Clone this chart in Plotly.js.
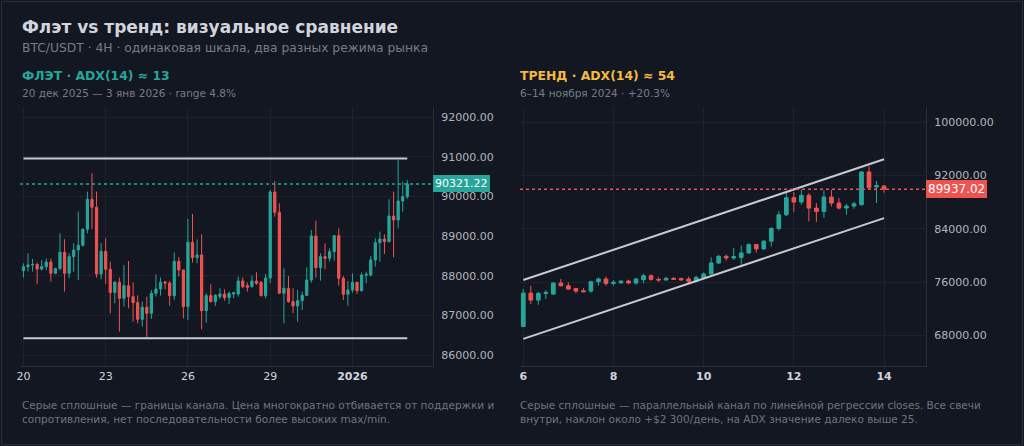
<!DOCTYPE html>
<html>
<head>
<meta charset="utf-8">
<script src="https://cdn.plot.ly/plotly-3.0.1.min.js"></script>
<style>
  html, body { margin: 0; padding: 0; background: #131722; }
  #chart { width: 1024px; height: 446px; }
</style>
</head>
<body>
<div id="chart"></div>
<script>
'use strict';

// ---- flat regime: BTC/USDT 4H, 20 Dec 2025 .. 3 Jan 2026 ----
const flatStart = '2025-12-20T00:00:00Z';
const flatOpen = [
    88134, 88235, 88277, 88290, 88176, 88235, 88353, 88067, 88185, 88596,
    88067, 88487, 88655, 88773, 89176, 89932, 89731, 88050, 88621, 88168,
    87580, 87840, 87437, 87756, 87479, 87327, 86907, 87210, 87059, 87563,
    87672, 87850, 87820, 87504, 88369, 88151, 87227, 88848, 88462, 88529,
    87126, 87504, 87353, 87479, 87546, 87453, 87546, 87546, 87874, 87756,
    87731, 87874, 87840, 87504, 87949, 90117, 89605, 87563, 87689, 87353,
    87243, 87378, 87512, 87899, 89008, 88210, 88487, 88445, 88613, 89016,
    87941, 87538, 87647, 87840, 87630, 88017, 88025, 88403, 88840, 88932,
    88865, 89512, 89411, 89890, 90000
];
const flatHigh = [
    88319, 88571, 88428, 88336, 88403, 88437, 88437, 88210, 89075, 88924,
    88571, 88823, 89621, 89201, 90126, 90588, 90126, 88832, 88949, 88361,
    87874, 87958, 88277, 88378, 87840, 87512, 87353, 87479, 87647, 88042,
    87958, 87874, 87874, 88596, 88479, 88160, 89437, 89563, 88924, 89050,
    87563, 87790, 87538, 87689, 87664, 87605, 87596, 87983, 87958, 87840,
    88008, 88092, 87874, 88050, 90168, 90395, 89832, 88193, 88000, 87689,
    87647, 87605, 88218, 89159, 89395, 88571, 88823, 88697, 89033, 89201,
    88000, 87874, 88067, 87857, 88092, 88109, 88504, 88949, 89117, 89050,
    89932, 90126, 90924, 90378, 90420
];
const flatLow = [
    87958, 88109, 88109, 87790, 88134, 88151, 87857, 88042, 88134, 87605,
    87941, 88109, 87899, 88739, 89075, 89185, 87958, 87916, 87798, 87059,
    87311, 86596, 87227, 87185, 86848, 86806, 86722, 86454, 86916, 87479,
    87504, 87664, 87252, 87395, 87983, 86932, 86890, 88336, 88319, 86655,
    86823, 87327, 87243, 87420, 87378, 87294, 87437, 87479, 87689, 87605,
    87706, 87773, 87479, 87437, 87815, 89495, 87546, 86806, 87327, 87059,
    86848, 87143, 87504, 87832, 87958, 87882, 88168, 88361, 88386, 87756,
    87395, 87252, 87580, 87546, 87605, 87815, 87983, 88235, 88361, 88554,
    88840, 88470, 89201, 89621, 89941
];
const flatClose = [
    88235, 88277, 88290, 88176, 88235, 88353, 88067, 88185, 88596, 88067,
    88487, 88655, 88773, 89176, 89932, 89731, 88050, 88621, 88168, 87580,
    87840, 87437, 87756, 87479, 87327, 86907, 87210, 87059, 87563, 87672,
    87840, 87820, 87504, 88369, 88151, 87227, 88848, 88462, 88529, 87126,
    87504, 87353, 87512, 87546, 87453, 87563, 87580, 87874, 87731, 87714,
    87874, 87815, 87504, 87949, 90117, 89605, 87563, 87689, 87353, 87243,
    87378, 87512, 87899, 89008, 88210, 88487, 88445, 88613, 89016, 87941,
    87538, 87647, 87840, 87630, 88025, 88042, 88403, 88840, 88932, 88865,
    89512, 89411, 89890, 90000, 90321.22
];
const flatChannel = [90960, 86430];          // resistance, support
const flatChannelSpan = ['2025-12-20 00:00', '2026-01-03 00:00'];
const flatTickVals = ['2025-12-20', '2025-12-23', '2025-12-26', '2025-12-29', '2026-01-01'];
const flatTickText = ['20', '23', '26', '29', '<b>2026</b>'];
const flatPriceTicks = [86000, 87000, 88000, 89000, 90000, 91000, 92000];

// ---- trend regime: BTC/USDT 4H, 6 .. 14 Nov 2024 ----
const trendStart = '2024-11-06T00:00:00Z';
const trendOpen = [
    69349, 74369, 73316, 74319, 74219, 75874, 75473, 75071, 74720, 74670,
    76075, 76476, 75824, 75900, 76175, 75874, 76376, 76977, 76426, 76325,
    76576, 76576, 76476, 76125, 76626, 77228, 78883, 79886, 79635, 79700,
    80388, 81642, 80990, 82143, 84049, 86106, 88664, 88012, 89015, 87109,
    86608, 88764, 87862, 87109, 87410, 87611, 92526, 90269, 90420
];
const trendHigh = [
    74977, 75473, 74570, 74820, 75974, 76476, 75974, 75122, 75122, 76225,
    76727, 76877, 76325, 76225, 76376, 76676, 77278, 77178, 76727, 76827,
    76777, 76626, 76827, 76977, 77478, 79736, 80087, 80137, 81140, 81491,
    81842, 81742, 82344, 84250, 86658, 89517, 89517, 89868, 89366, 87862,
    89768, 89868, 88614, 87761, 88062, 92627, 93379, 91172, 90520
];
const trendLow = [
    69305, 72714, 72614, 73466, 74118, 75322, 74871, 74319, 74520, 74419,
    75473, 75473, 75473, 75723, 75723, 75623, 75824, 76225, 76075, 76225,
    76325, 76225, 75824, 75974, 76475, 77127, 78732, 79234, 79334, 78632,
    80237, 80438, 80839, 81341, 83748, 85905, 86507, 87611, 85103, 85002,
    85654, 87360, 86908, 86106, 87009, 87510, 89918, 87862, 89417
];
const trendClose = [
    74369, 73316, 74319, 74469, 75874, 75473, 74971, 74670, 74570, 76075,
    76476, 75824, 75974, 76175, 75874, 76476, 76977, 76426, 76325, 76576,
    76426, 76325, 76125, 76727, 77228, 78883, 79886, 79635, 79836, 80388,
    81642, 80990, 82143, 84049, 86106, 88664, 88012, 89015, 87109, 86608,
    88764, 87862, 87109, 87410, 87761, 92526, 90169, 90470, 89937.02
];
const trendUpper = [76330, 94430];           // channel at start / end
const trendLower = [67500, 85600];
const trendChannelSpan = ['2024-11-06 00:00', '2024-11-14 00:00'];
const trendTickVals = ['2024-11-06', '2024-11-08', '2024-11-10', '2024-11-12', '2024-11-14'];
const trendTickText = ['<b>6</b>', '<b>8</b>', '<b>10</b>', '<b>12</b>', '<b>14</b>'];
const trendPriceTicks = [68000, 76000, 84000, 92000, 100000];

const UP = '#26a69a';
const DOWN = '#ef5350';
const GRID = '#1e222d';
const AXIS = '#2a2e39';
const CHANNEL = '#c7cad1';
const FONT = 'DejaVu Sans, sans-serif';

const W = 1024, H = 446;
const px = x => x / W;
const py = y => 1 - y / H;

// 4H bar open times, plain 'YYYY-MM-DD HH:MM' strings
function barTimes(start, n) {
    const t0 = Date.parse(start);
    const out = [];
    for (let i = 0; i < n; i++) {
        out.push(new Date(t0 + i * 4 * 3600e3).toISOString().slice(0, 16).replace('T', ' '));
    }
    return out;
}

function candles(times, o, h, l, c, xa, ya) {
    return {
        type: 'candlestick',
        x: times, open: o, high: h, low: l, close: c,
        xaxis: xa, yaxis: ya,
        increasing: {line: {color: UP, width: 1}, fillcolor: UP},
        decreasing: {line: {color: DOWN, width: 1}, fillcolor: DOWN},
        whiskerwidth: 0,
        hoverinfo: 'skip'
    };
}

function channelLine(span, vals, xa, ya) {
    return {
        type: 'scatter', mode: 'lines',
        x: span, y: vals, xaxis: xa, yaxis: ya,
        line: {color: CHANNEL, width: 2},
        hoverinfo: 'skip'
    };
}

const flatTimes = barTimes(flatStart, flatOpen.length);
const trendTimes = barTimes(trendStart, trendOpen.length);
const flatLast = flatClose[flatClose.length - 1];
const trendLast = trendClose[trendClose.length - 1];

const data = [
    channelLine(flatChannelSpan, [flatChannel[0], flatChannel[0]], 'x', 'y'),
    channelLine(flatChannelSpan, [flatChannel[1], flatChannel[1]], 'x', 'y'),
    candles(flatTimes, flatOpen, flatHigh, flatLow, flatClose, 'x', 'y'),
    channelLine(trendChannelSpan, trendUpper, 'x2', 'y2'),
    channelLine(trendChannelSpan, trendLower, 'x2', 'y2'),
    candles(trendTimes, trendOpen, trendHigh, trendLow, trendClose, 'x2', 'y2')
];

function timeAxis(domain, range, vals, text, anchor) {
    return {
        domain: domain, anchor: anchor, type: 'date', range: range,
        rangeslider: {visible: false},
        tickmode: 'array', tickvals: vals, ticktext: text,
        showgrid: true, gridcolor: GRID, gridwidth: 1,
        showline: true, linecolor: AXIS, linewidth: 1,
        zeroline: false, ticks: '',
        tickfont: {family: FONT, size: 11, color: '#d1d4dc'},
        fixedrange: true
    };
}

function priceAxis(range, vals, anchor) {
    return {
        domain: [py(366), py(107)], anchor: anchor, side: 'right', range: range,
        tickmode: 'array', tickvals: vals, ticktext: vals.map(v => v.toFixed(2)),
        showgrid: true, gridcolor: GRID, gridwidth: 1,
        showline: true, linecolor: AXIS, linewidth: 1,
        zeroline: false, ticks: '', ticklabelstandoff: 5,
        tickfont: {family: FONT, size: 11, color: '#b2b5be'},
        fixedrange: true
    };
}

function text(x, y, str, size, color, bold, anchor) {
    return {
        xref: 'paper', yref: 'paper', x: px(x), y: py(y),
        xanchor: 'left', yanchor: anchor || 'middle', align: 'left',
        text: bold ? '<b>' + str + '</b>' : str,
        showarrow: false,
        font: {family: FONT, size: size, color: color}
    };
}

function priceBadge(xref, yref, value, color, size) {
    return {
        xref: xref + ' domain', yref: yref, x: 1, y: value,
        xanchor: 'left', yanchor: 'middle',
        text: value.toFixed(2), showarrow: false,
        bgcolor: color, borderpad: 2, borderwidth: 0,
        font: {family: FONT, size: size, color: '#ffffff'}
    };
}

function priceLine(xref, yref, value, color) {
    return {
        type: 'line', xref: xref + ' domain', yref: yref,
        x0: 0, x1: 1, y0: value, y1: value,
        line: {color: color, width: 1.5, dash: 'dot'}
    };
}

const layout = {
    width: W, height: H,
    margin: {l: 0, r: 0, t: 0, b: 0},
    paper_bgcolor: '#131722',
    plot_bgcolor: '#131722',
    showlegend: false,
    font: {family: FONT, color: '#b2b5be', size: 11},
    xaxis: timeAxis([px(20), px(433)], ['2025-12-19 21:00', '2026-01-03 22:30'],
        flatTickVals, flatTickText, 'y'),
    yaxis: priceAxis([85730, 92260], flatPriceTicks, 'x'),
    xaxis2: timeAxis([px(520), px(926)], ['2024-11-05 22:15', '2024-11-14 22:20'],
        trendTickVals, trendTickText, 'y2'),
    yaxis2: priceAxis([63440, 102260], trendPriceTicks, 'x2'),
    shapes: [
        priceLine('x', 'y', flatLast, UP),
        priceLine('x2', 'y2', trendLast, DOWN),
        {type: 'rect', xref: 'paper', yref: 'paper', x0: px(1.5), x1: px(1022.5),
            y0: py(444.5), y1: py(1.5), line: {color: AXIS, width: 1}}
    ],
    annotations: [
        text(20, 27, 'Флэт vs тренд: визуальное сравнение', 17, '#d1d4dc', true),
        text(20, 48, 'BTC/USDT · 4H · одинаковая шкала, два разных режима рынка', 12.3, '#787b86'),
        text(20, 75, 'ФЛЭТ · ADX(14) ≈ 13', 12.4, UP, true),
        text(20, 93, '20 дек 2025 — 3 янв 2026 · range 4.8%', 10.5, '#787b86'),
        text(518, 75, 'ТРЕНД · ADX(14) ≈ 54', 12.4, '#f5b841', true),
        text(518, 93, '6–14 ноября 2024 · +20.3%', 10.5, '#787b86'),
        text(20, 397, 'Серые сплошные — границы канала. Цена многократно отбивается от поддержки и<br>' +
            'сопротивления, нет последовательности более высоких max/min.', 10.5, '#6f7380', false, 'top'),
        text(518, 397, 'Серые сплошные — параллельный канал по линейной регрессии closes. Все свечи<br>' +
            'внутри, наклон около +$2 300/день, на ADX значение далеко выше 25.', 10.5, '#6f7380', false, 'top'),
        priceBadge('x', 'y', flatLast, UP, 11),
        priceBadge('x2', 'y2', trendLast, DOWN, 12)
    ]
};

Plotly.newPlot('chart', data, layout, {displayModeBar: false, staticPlot: true});
</script>
</body>
</html>
